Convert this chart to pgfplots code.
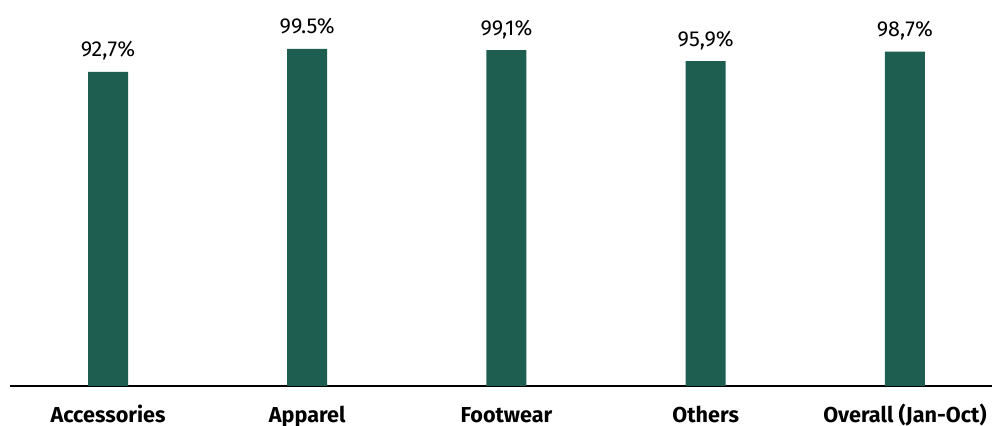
\documentclass[border=0pt]{standalone}
\usepackage{pgfplots}
\pgfplotsset{compat=1.18}
\usepackage{fontspec}
\setmainfont{Fira Sans}
\definecolor{bargreen}{HTML}{1D5E51}
\begin{document}
\begin{tikzpicture}
\useasboundingbox (0,0) rectangle (496pt,213pt);
\begin{axis}[
  at={(5pt,20pt)}, anchor=south west,
  scale only axis,
  width=491pt, height=169.4pt,
  xmin=-0.492, xmax=4.437,
  ymin=0, ymax=100,
  axis y line=none,
  axis x line*=bottom,
  x axis line style={-, line width=0.8pt, black},
  xtick=data,
  xticklabels={Accessories,Apparel,Footwear,Others,Overall (Jan-Oct)},
  xtick style={draw=none},
  xticklabel style={font=\fontsize{10.8}{12}\selectfont\bfseries, anchor=base, yshift=-14pt},
  ybar, bar width=20pt,
  point meta=explicit symbolic,
  nodes near coords,
  nodes near coords style={font=\fontsize{10.8}{12}\selectfont, anchor=base, yshift=7.5pt},
  clip=false,
]
\addplot[fill=bargreen, draw=none] table[meta=lab] {
x y lab
0 92.7 92,7\%
1 99.5 99.5\%
2 99.1 99,1\%
3 95.9 95,9\%
4 98.7 98,7\%
};
\end{axis}
\end{tikzpicture}
\end{document}
